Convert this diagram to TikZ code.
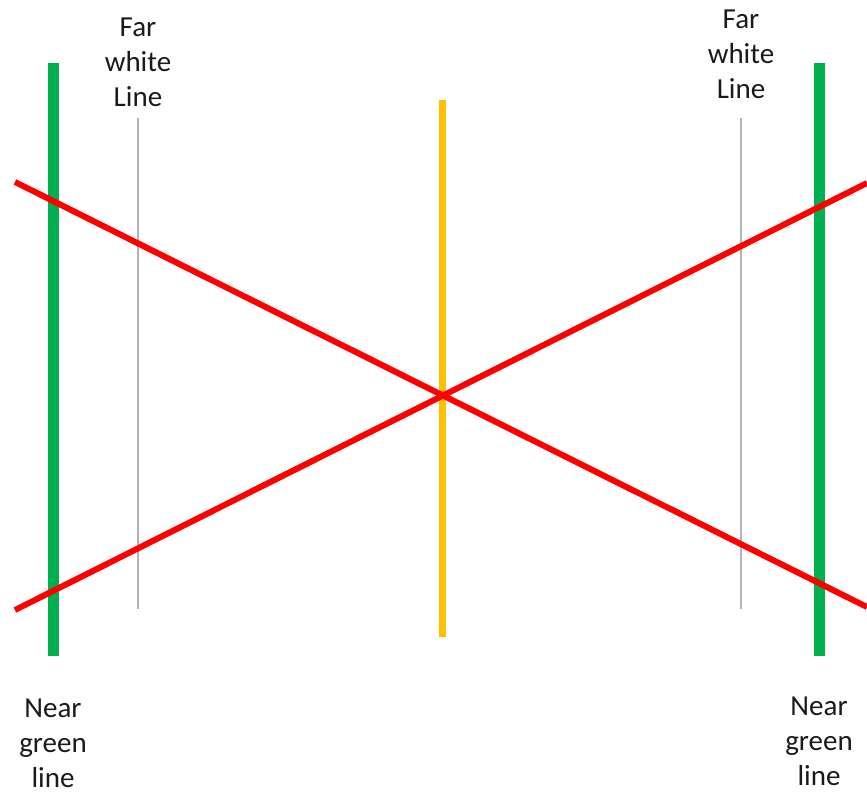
\documentclass[tikz,border=0pt]{standalone}
\usepackage{fontspec}
\setmainfont{Carlito}
\usetikzlibrary{positioning}
\definecolor{lnGreen}{HTML}{00B050}
\definecolor{lnGrey}{HTML}{B4B4B4}
\definecolor{lnYellow}{HTML}{FFC000}
\definecolor{lnRed}{HTML}{FF0000}
\definecolor{lnText}{HTML}{1A1A1A}
\tikzset{
  greenline/.style={draw=lnGreen, line width=11pt},
  whiteline/.style={draw=lnGrey, line width=2.5pt},
  midline/.style={draw=lnYellow, line width=7pt},
  crossline/.style={draw=lnRed, line width=6pt},
  lbl/.style={font=\fontsize{29}{35}\selectfont, align=center, inner sep=0pt, text=lnText}
}
\begin{document}
\begin{tikzpicture}[x=1pt, y=-1pt]
  \useasboundingbox (0,0) rectangle (867,794);
  % line ends
  \coordinate (gLtop) at (53,63);
  \coordinate (gLbot) at (53,656);
  \coordinate (gRtop) at (819,63);
  \coordinate (gRbot) at (819,656);
  \coordinate (wLtop) at (138,118);
  \coordinate (wLbot) at (138,609);
  \coordinate (wRtop) at (741,118);
  \coordinate (wRbot) at (741,609);
  \coordinate (cTop) at (442,100);
  \coordinate (cBot) at (442,637);
  \coordinate (rAstart) at (15,182);
  \coordinate (rAend) at (867,607);
  \coordinate (rBstart) at (15,610);
  \coordinate (rBend) at (867,183);

  \draw[whiteline] (wLtop) -- (wLbot);
  \draw[whiteline] (wRtop) -- (wRbot);
  \draw[midline] (cTop) -- (cBot);
  \draw[greenline] (gLtop) -- (gLbot);
  \draw[greenline] (gRtop) -- (gRbot);
  \draw[crossline] (rAstart) -- (rAend);
  \draw[crossline] (rBstart) -- (rBend);

  % labels
  \node[lbl] (farL) at (138,62) {Far\\white\\Line};
  \node[lbl] (farR) at (741,54) {Far\\white\\Line};
  \node[lbl] (nearL) at (53,743) {Near\\green\\line};
  \node[lbl] (nearR) at (819,741) {Near\\green\\line};
\end{tikzpicture}
\end{document}
